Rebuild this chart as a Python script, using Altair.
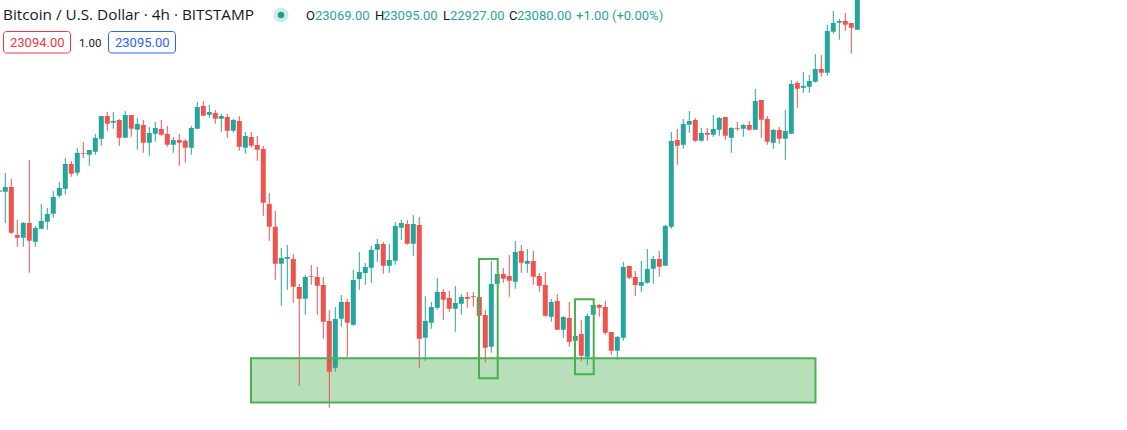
import altair as alt
import pandas as pd

# ---- candle data (4h bars) ----
opens = [22333, 22333, 22352, 22160, 22149, 22208, 22133, 22185, 22213, 22245,
         22317, 22345, 22444, 22409, 22488, 22481, 22493, 22545, 22636, 22609,
         22620, 22549, 22640, 22581, 22600, 22529, 22565, 22584, 22564, 22521,
         22540, 22536, 22509, 22585, 22676, 22641, 22648, 22625, 22632, 22577,
         22616, 22509, 22552, 22520, 22504, 22284, 22193, 22045, 22065, 22064,
         21952, 21905, 21996, 21992, 21960, 21816, 21629, 21825, 21892, 21801,
         21984, 22008, 22029, 22101, 22124, 22037, 22057, 22189, 22204, 22125,
         22200, 21749, 21809, 21869, 21932, 21908, 21865, 21885, 21912, 21916,
         21912, 21840, 21713, 21965, 22004, 21996, 21973, 22096, 22045, 22056,
         21996, 21960, 21833, 21896, 21781, 21828, 21737, 21764, 21673, 21841,
         21880, 21872, 21772, 21697, 21749, 22036, 21992, 21957, 21969, 22025,
         22064, 22037, 22193, 22540, 22521, 22601, 22620, 22537, 22568, 22561,
         22581, 22632, 22549, 22588, 22585, 22600, 22581, 22700, 22624, 22529,
         22580, 22545, 22565, 22768, 22749, 22753, 22773, 22824, 22809, 22973,
         23009, 23016, 23008, 22981]
highs = [22344, 22408, 22384, 22220, 22212, 22460, 22196, 22284, 22268, 22336,
         22372, 22468, 22456, 22508, 22532, 22500, 22564, 22636, 22652, 22652,
         22624, 22656, 22640, 22628, 22620, 22592, 22612, 22620, 22596, 22552,
         22564, 22544, 22596, 22692, 22696, 22680, 22660, 22644, 22644, 22624,
         22636, 22572, 22572, 22556, 22516, 22328, 22256, 22108, 22120, 22084,
         21964, 22000, 22040, 22032, 21992, 21860, 21872, 21920, 21904, 22021,
         22092, 22048, 22116, 22145, 22132, 22124, 22212, 22220, 22220, 22240,
         22232, 21915, 21892, 21988, 21944, 21936, 21956, 21924, 21932, 21932,
         21912, 21860, 22056, 22004, 22028, 22080, 22136, 22120, 22104, 22096,
         22008, 22012, 21904, 21924, 21836, 21892, 21777, 21821, 21848, 21881,
         21884, 21897, 21772, 21756, 22052, 22036, 22016, 22056, 22104, 22076,
         22096, 22201, 22572, 22584, 22624, 22656, 22628, 22588, 22588, 22640,
         22632, 22632, 22592, 22612, 22604, 22616, 22744, 22700, 22636, 22584,
         22592, 22660, 22780, 22776, 22812, 22800, 22884, 22880, 23000, 23056,
         23024, 23048, 23008, 23200]
lows = [22328, 22207, 22164, 22113, 22113, 22009, 22113, 22185, 22181, 22229,
        22309, 22321, 22393, 22397, 22468, 22437, 22481, 22517, 22577, 22585,
        22517, 22549, 22553, 22501, 22489, 22477, 22533, 22557, 22513, 22489,
        22437, 22449, 22481, 22585, 22637, 22629, 22605, 22573, 22549, 22569,
        22497, 22485, 22509, 22457, 22237, 22137, 21981, 21877, 21941, 21889,
        21557, 21841, 21961, 21841, 21745, 21469, 21613, 21793, 21673, 21797,
        21941, 21961, 21969, 22053, 22005, 22009, 22041, 22141, 22121, 22077,
        21629, 21657, 21785, 21861, 21821, 21853, 21773, 21841, 21869, 21873,
        21809, 21649, 21689, 21965, 21969, 21913, 21945, 22008, 22009, 21961,
        21933, 21833, 21813, 21781, 21749, 21713, 21717, 21657, 21641, 21840,
        21833, 21761, 21680, 21661, 21737, 21984, 21916, 21932, 21965, 21965,
        21993, 22037, 22185, 22441, 22505, 22569, 22533, 22533, 22537, 22553,
        22557, 22541, 22489, 22577, 22553, 22577, 22581, 22549, 22521, 22505,
        22525, 22461, 22565, 22669, 22729, 22729, 22769, 22793, 22797, 22965,
        22941, 22977, 22885, 22981]
closes = [22338, 22352, 22169, 22149, 22208, 22137, 22188, 22216, 22244, 22312,
          22348, 22444, 22405, 22488, 22485, 22500, 22548, 22636, 22605, 22616,
          22549, 22640, 22585, 22604, 22529, 22568, 22588, 22561, 22521, 22540,
          22529, 22509, 22588, 22672, 22637, 22652, 22625, 22636, 22577, 22620,
          22513, 22556, 22517, 22501, 22289, 22193, 22045, 22068, 22072, 21953,
          21905, 21992, 21993, 21957, 21813, 21613, 21824, 21892, 21809, 21980,
          22012, 22032, 22100, 22124, 22037, 22060, 22196, 22208, 22125, 22204,
          21745, 21816, 21872, 21932, 21901, 21865, 21888, 21912, 21905, 21913,
          21837, 21709, 21964, 22004, 21985, 21977, 22092, 22049, 22056, 21993,
          21957, 21837, 21892, 21781, 21832, 21733, 21756, 21677, 21836, 21880,
          21869, 21769, 21697, 21752, 22032, 21989, 21960, 21972, 22024, 22064,
          22033, 22196, 22536, 22517, 22604, 22616, 22537, 22568, 22561, 22584,
          22628, 22557, 22588, 22585, 22600, 22581, 22696, 22621, 22533, 22580,
          22545, 22576, 22764, 22745, 22756, 22776, 22824, 22809, 22976, 23008,
          23016, 23001, 22989, 23180]
bars = list(range(len(opens)))

# drawings (bar index / price anchors)
zone_x1 = [41.95]
zone_x2 = [136.03]
zone_p1 = [21667]
zone_p2 = [21490]
box_x1 = [79.95, 95.95]
box_x2 = [83.07, 99.07]
box_p1 = [22064, 21903]
box_p2 = [21587, 21603]

GREEN = "#26a69a"
RED = "#ef5350"
DRAW = "#4caf50"
TXT = "#131722"
FONT = "Roboto"

df = pd.DataFrame({"bar": bars, "open": opens, "high": highs, "low": lows, "close": closes})
zone = pd.DataFrame({"x1": zone_x1, "x2": zone_x2, "p1": zone_p1, "p2": zone_p2})
boxes = pd.DataFrame({"x1": box_x1, "x2": box_x2, "p1": box_p1, "p2": box_p2})
one = pd.DataFrame({"k": [0]})

xs = alt.Scale(domain=[0.1167, 187.95], nice=False, zero=False, padding=0)
ys = alt.Scale(domain=[21380, 23100], nice=False, zero=False, padding=0)
col = alt.condition("datum.close >= datum.open", alt.value(GREEN), alt.value(RED))

base = alt.Chart(df)
wicks = base.mark_rule(strokeWidth=1, clip=True).encode(
    x=alt.X("bar:Q", scale=xs, axis=None),
    y=alt.Y("high:Q", scale=ys, axis=None),
    y2="low:Q",
    color=col,
)
bodies = base.mark_bar(size=5, clip=True).encode(
    x=alt.X("bar:Q", scale=xs, axis=None),
    y=alt.Y("open:Q", scale=ys, axis=None),
    y2="close:Q",
    color=col,
)

zone_fill = alt.Chart(zone).mark_rect(fill="#b7dfb9", clip=True).encode(
    x=alt.X("x1:Q", scale=xs, axis=None), x2="x2:Q",
    y=alt.Y("p1:Q", scale=ys, axis=None), y2="p2:Q",
)
zone_line = alt.Chart(zone).mark_rect(fillOpacity=0, stroke=DRAW, strokeWidth=2, clip=True).encode(
    x=alt.X("x1:Q", scale=xs, axis=None), x2="x2:Q",
    y=alt.Y("p1:Q", scale=ys, axis=None), y2="p2:Q",
)
box_line = alt.Chart(boxes).mark_rect(fillOpacity=0, stroke=DRAW, strokeWidth=2, clip=True).encode(
    x=alt.X("x1:Q", scale=xs, axis=None), x2="x2:Q",
    y=alt.Y("p1:Q", scale=ys, axis=None), y2="p2:Q",
)


def label(txt, x, y, color, size=13, font=FONT):
    return alt.Chart(one).mark_text(
        text=txt, align="left", baseline="alphabetic", font=font, fontSize=size, color=color
    ).encode(x=alt.value(x), y=alt.value(y))


def frame(x1, x2, y1, y2, stroke):
    return alt.Chart(one).mark_rect(
        fill="white", stroke=stroke, strokeWidth=1, cornerRadius=3
    ).encode(x=alt.value(x1), x2=alt.value(x2), y=alt.value(y1), y2=alt.value(y2))


halo = alt.Chart(one).mark_circle(size=227, color="#cdece7", opacity=1).encode(
    x=alt.value(281), y=alt.value(15))
dot = alt.Chart(one).mark_circle(size=43, color="#1f9e8f", opacity=1).encode(
    x=alt.value(281), y=alt.value(15))

header = [
    label("Bitcoin / U.S. Dollar · 4h · BITSTAMP", 3, 20, TXT, 15.3, "Open Sans"),
    halo, dot,
    label("O", 306, 20, TXT), label("23069.00", 315, 20, GREEN),
    label("H", 375, 20, TXT), label("23095.00", 383, 20, GREEN),
    label("L", 443, 20, TXT), label("22927.00", 450, 20, GREEN),
    label("C", 509, 20, TXT), label("23080.00", 517, 20, GREEN),
    label("+1.00 (+0.00%)", 576, 20, GREEN),
    frame(3.5, 70.5, 31.5, 53, "#f23645"),
    label("23094.00", 10, 47, "#f23645"),
    label("1.00", 79, 47, TXT, 11.5),
    frame(108.5, 175.5, 31.5, 53, "#2962ff"),
    label("23095.00", 115, 47, "#2962ff"),
]

chart = alt.layer(zone_fill, wicks, bodies, zone_line, box_line, *header).properties(
    width=1127, height=430, padding=0, background="white",
    autosize=alt.AutoSizeParams(type="none"),
).configure_view(strokeWidth=0)

chart.save("out.html", embed_options={"renderer": "svg", "actions": False})
